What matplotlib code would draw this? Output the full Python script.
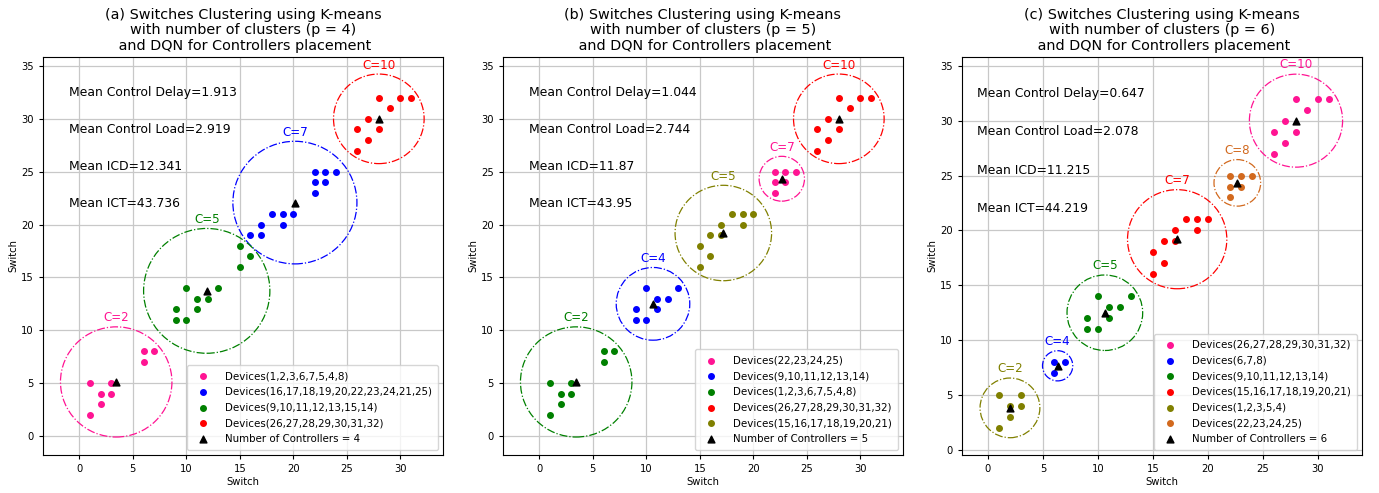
import numpy as np
import matplotlib
matplotlib.use("Agg")
import matplotlib.pyplot as plt
from matplotlib.patches import Circle

# ---------------- data (switch coordinates) ----------------
dev_1_5_x = [1, 3, 2, 3, 2, 1]
dev_1_5_y = [5, 5, 4, 4, 3, 2]
dev_6_8_x = [6, 7, 6]
dev_6_8_y = [8, 8, 7]
dev_9_14_x = [9, 9, 10, 10, 11, 11, 12, 13]
dev_9_14_y = [12, 11, 11, 14, 13, 12, 13, 14]
dev_15_x = [15, 16, 15]
dev_15_y = [18, 17, 16]
dev_16_21_x = [16, 17, 17, 18, 19, 19, 20]
dev_16_21_y = [19, 19, 20, 21, 21, 20, 21]
dev_22_25_x = [22, 22, 23, 22, 23, 24]
dev_22_25_y = [23, 24, 24, 25, 25, 25]
dev_26_32_x = [28, 30, 31, 29, 27, 26, 28, 27, 26]
dev_26_32_y = [32, 32, 32, 31, 30, 29, 29, 28, 27]

titles = [
    "(a) Switches Clustering using K-means\nwith number of clusters (p = 4)\n and DQN for Controllers placement",
    "(b) Switches Clustering using K-means\nwith number of clusters (p = 5)\n and DQN for Controllers placement",
    "(c) Switches Clustering using K-means\nwith number of clusters (p = 6)\n and DQN for Controllers placement",
]
mean_delay = ["1.913", "1.044", "0.647"]
mean_load = ["2.919", "2.744", "2.078"]
mean_icd = ["12.341", "11.87", "11.215"]
mean_ict = ["43.736", "43.95", "44.219"]
n_controllers = [4, 5, 6]

# clusters per panel: (groups, colour, C label, legend label)
panel_a = [
    ([(dev_1_5_x, dev_1_5_y), (dev_6_8_x, dev_6_8_y)], "deeppink", "C=2", "Devices(1,2,3,6,7,5,4,8)"),
    ([(dev_16_21_x, dev_16_21_y), (dev_22_25_x, dev_22_25_y)], "blue", "C=7",
     "Devices(16,17,18,19,20,22,23,24,21,25)"),
    ([(dev_9_14_x, dev_9_14_y), (dev_15_x, dev_15_y)], "green", "C=5", "Devices(9,10,11,12,13,15,14)"),
    ([(dev_26_32_x, dev_26_32_y)], "red", "C=10", "Devices(26,27,28,29,30,31,32)"),
]
panel_b = [
    ([(dev_22_25_x, dev_22_25_y)], "deeppink", "C=7", "Devices(22,23,24,25)"),
    ([(dev_9_14_x, dev_9_14_y)], "blue", "C=4", "Devices(9,10,11,12,13,14)"),
    ([(dev_1_5_x, dev_1_5_y), (dev_6_8_x, dev_6_8_y)], "green", "C=2", "Devices(1,2,3,6,7,5,4,8)"),
    ([(dev_26_32_x, dev_26_32_y)], "red", "C=10", "Devices(26,27,28,29,30,31,32)"),
    ([(dev_15_x, dev_15_y), (dev_16_21_x, dev_16_21_y)], "olive", "C=5", "Devices(15,16,17,18,19,20,21)"),
]
panel_c = [
    ([(dev_26_32_x, dev_26_32_y)], "deeppink", "C=10", "Devices(26,27,28,29,30,31,32)"),
    ([(dev_6_8_x, dev_6_8_y)], "blue", "C=4", "Devices(6,7,8)"),
    ([(dev_9_14_x, dev_9_14_y)], "green", "C=5", "Devices(9,10,11,12,13,14)"),
    ([(dev_15_x, dev_15_y), (dev_16_21_x, dev_16_21_y)], "red", "C=7", "Devices(15,16,17,18,19,20,21)"),
    ([(dev_1_5_x, dev_1_5_y)], "olive", "C=2", "Devices(1,2,3,5,4)"),
    ([(dev_22_25_x, dev_22_25_y)], "chocolate", "C=8", "Devices(22,23,24,25)"),
]
panels = [panel_a, panel_b, panel_c]
xlims = [(-3.4, 34.0), (-3.4, 34.0), (-2.36, 34.0)]
ylims = [(-1.8, 35.85), (-1.8, 35.85), (-0.46, 35.8)]

# ---------------- figure ----------------
fig = plt.figure(figsize=(13.79, 4.93), dpi=100)
lefts = [43 / 1379, 503 / 1379, 962 / 1379]
for k, (clusters, left) in enumerate(zip(panels, lefts)):
    ax = fig.add_axes([left, 38 / 493, 400 / 1379, 398 / 493])
    ax.set_axisbelow(True)
    ax.grid(True, color="#c8c8c8", linewidth=0.9)
    cxs, cys = [], []
    for groups, color, clabel, leg in clusters:
        xs = np.concatenate([np.asarray(g[0], float) for g in groups])
        ys = np.concatenate([np.asarray(g[1], float) for g in groups])
        ax.scatter(xs, ys, s=16, color=color, label=leg, zorder=3)
        cx, cy = xs.mean(), ys.mean()
        r = np.max(np.hypot(xs - cx, ys - cy)) + 0.63
        ax.add_patch(Circle((cx, cy), r, fill=False, edgecolor=color, linestyle="-.",
                            linewidth=0.9, zorder=2))
        ax.text(cx, cy + r + 0.85, clabel, color=color, ha="center", va="center", fontsize=8.6)
        cxs.append(cx)
        cys.append(cy)
    ax.scatter(cxs, cys, marker="^", s=24, color="black", zorder=4,
               label=f"Number of Controllers = {n_controllers[k]}")
    ax.text(-1.0, 32.5, f"Mean Control Delay={mean_delay[k]}", fontsize=8.9, va="center")
    ax.text(-1.0, 29.0, f"Mean Control Load={mean_load[k]}", fontsize=8.9, va="center")
    ax.text(-1.0, 25.5, f"Mean ICD={mean_icd[k]}", fontsize=8.9, va="center")
    ax.text(-1.0, 22.0, f"Mean ICT={mean_ict[k]}", fontsize=8.9, va="center")
    ax.set_xlim(*xlims[k])
    ax.set_ylim(*ylims[k])
    ax.set_xticks(range(0, 31, 5))
    ax.set_yticks(range(0, 36, 5))
    ax.tick_params(labelsize=7.2, length=3)
    ax.set_xlabel("Switch", fontsize=7.2, labelpad=2)
    ax.set_ylabel("Switch", fontsize=7.2, labelpad=2)
    ax.set_title(titles[k], fontsize=10.4, pad=5, linespacing=1.15)
    ax.legend(loc="lower right", fontsize=7.4, scatterpoints=1, labelspacing=0.55,
              handletextpad=1.1, borderpad=0.6)

fig.savefig("out.png", dpi=100)
